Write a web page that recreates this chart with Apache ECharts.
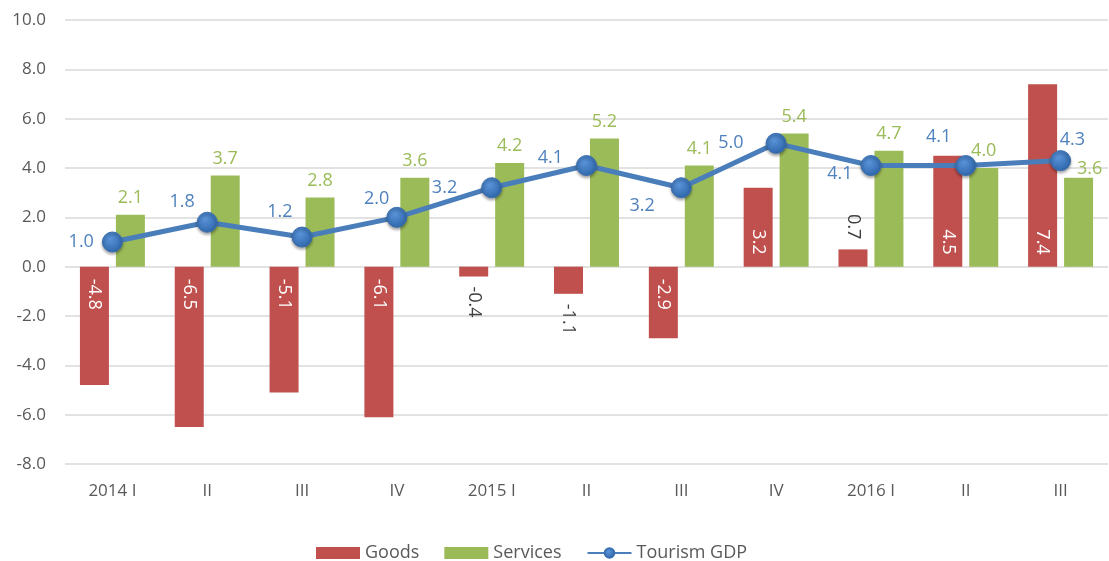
<!DOCTYPE html>
<html>
<head>
<meta charset="utf-8">
<script src="https://cdn.jsdelivr.net/npm/echarts@6/dist/echarts.min.js"></script>
<style>
  html, body { margin: 0; padding: 0; background: #fff; }
  #chart { width: 1109px; height: 561px; }
</style>
</head>
<body>
<div id="chart"></div>
<script>
var categories = ['2014 I', 'II', 'III', 'IV', '2015 I', 'II', 'III', 'IV', '2016 I', 'II', 'III'];
var goods = [-4.8, -6.5, -5.1, -6.1, -0.4, -1.1, -2.9, 3.2, 0.7, 4.5, 7.4];
var services = [2.1, 3.7, 2.8, 3.6, 4.2, 5.2, 4.1, 5.4, 4.7, 4.0, 3.6];
var tourismGdp = [1.0, 1.8, 1.2, 2.0, 3.2, 4.1, 3.2, 5.0, 4.1, 4.1, 4.3];

// where the Excel labels for the line sit, relative to the marker
var gdpLabelOffset = [[-8, 0], [-2, -20], [1, -25], [3, -18], [-24, 0], [-13, -8],
    [-16, 18], [-22, 0], [-8, 8], [-4, -29], [35, -21]];
// last services label was nudged right by Excel to clear the line label
var servicesLabelOffset = [[0, 0], [0, 0], [0, 0], [0, 0], [0, 0], [0, 0],
    [0, 0], [0, 0], [0, 0], [0, 0], [11, 8]];

var font = 'Open Sans';
var grey = '#595959';
var labelSize = 18;

var goodsData = goods.map(function (v) {
    var inside = Math.abs(v) >= 2;
    var label;
    if (inside) {
        label = {
            position: v < 0 ? 'insideTop' : 'insideBottom',
            distance: 12,
            align: v < 0 ? 'left' : 'right',
            verticalAlign: 'middle',
            color: '#fff'
        };
    } else {
        label = {
            position: v < 0 ? 'bottom' : 'top',
            distance: 10,
            align: v < 0 ? 'left' : 'right',
            verticalAlign: 'middle',
            color: '#404040'
        };
    }
    return { value: v, label: label };
});

var servicesData = services.map(function (v, i) {
    return { value: v, label: { offset: servicesLabelOffset[i] } };
});

var gdpData = tourismGdp.map(function (v, i) {
    return {
        value: v,
        label: { position: 'left', distance: 0, offset: gdpLabelOffset[i] }
    };
});

var option = {
    animation: false,
    textStyle: { fontFamily: font },
    grid: { left: 65, right: 1, top: 20, bottom: 97 },
    legend: {
        left: 311,
        top: 539,
        itemWidth: 44,
        itemHeight: 12,
        itemGap: 25,
        textStyle: { color: grey, fontSize: 18, fontFamily: font },
        data: [
            { name: 'Goods', icon: 'rect' },
            { name: 'Services', icon: 'rect' },
            { name: 'Tourism GDP' }
        ]
    },
    xAxis: {
        type: 'category',
        data: categories,
        axisLine: { show: false, onZero: false },
        axisTick: { show: false },
        axisLabel: { color: grey, fontSize: 17, margin: 19, fontFamily: font }
    },
    yAxis: {
        type: 'value',
        min: -8,
        max: 10,
        interval: 2,
        axisLabel: {
            color: grey, fontSize: 17, margin: 19, fontFamily: font,
            formatter: function (v) { return v.toFixed(1); }
        },
        splitLine: { lineStyle: { color: '#D9D9D9', width: 1.5 } }
    },
    series: [
        {
            name: 'Goods',
            type: 'bar',
            barWidth: 29,
            barGap: '24%',
            itemStyle: { color: '#C0504D' },
            label: {
                show: true,
                rotate: -90,
                fontSize: labelSize,
                fontFamily: font,
                formatter: function (p) { return p.value.toFixed(1); }
            },
            data: goodsData
        },
        {
            name: 'Services',
            type: 'bar',
            barWidth: 29,
            itemStyle: { color: '#9BBB59' },
            label: {
                show: true,
                position: 'top',
                distance: 8,
                color: '#9BBB59',
                fontSize: labelSize,
                fontFamily: font,
                formatter: function (p) { return p.value.toFixed(1); }
            },
            data: servicesData
        },
        {
            name: 'Tourism GDP',
            type: 'line',
            symbol: 'circle',
            symbolSize: 20,
            z: 5,
            lineStyle: { color: '#4A7EBB', width: 5 },
            itemStyle: {
                color: new echarts.graphic.RadialGradient(0.4, 0.35, 0.7, [
                    { offset: 0, color: '#5A93D8' },
                    { offset: 1, color: '#2C64A8' }
                ]),
                borderColor: '#3A6FB0',
                borderWidth: 1,
                shadowColor: 'rgba(0,0,0,0.35)',
                shadowBlur: 3,
                shadowOffsetY: 2
            },
            label: {
                show: true,
                color: '#4F81BD',
                fontSize: labelSize,
                fontFamily: font,
                formatter: function (p) { return p.value.toFixed(1); }
            },
            data: gdpData
        }
    ]
};

var myChart = echarts.init(document.getElementById('chart'));
myChart.setOption(option);
</script>
</body>
</html>
